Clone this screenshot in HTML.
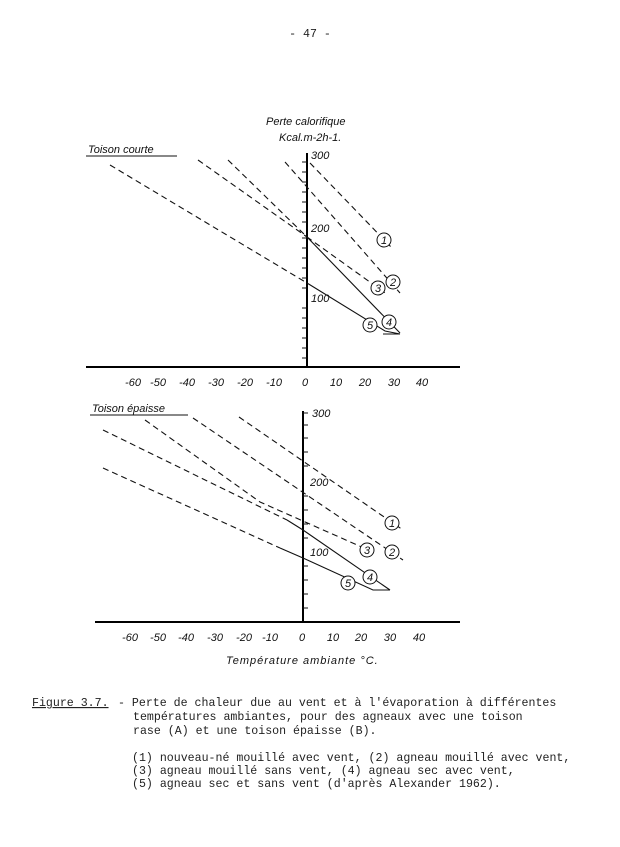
<!DOCTYPE html>
<html><head><meta charset="utf-8"><style>
body{margin:0;background:#fff}
svg{display:block}
.m{font-family:"Liberation Mono",monospace;font-size:11.6px;fill:#222}
.s{font-family:"Liberation Sans",sans-serif;font-style:italic;font-size:11px;fill:#111}
.d{stroke:#111;stroke-width:1.1;fill:none;stroke-dasharray:6 4}
.l{stroke:#111;stroke-width:1.1;fill:none}
.ax{stroke:#000;stroke-width:2;fill:none}
circle{fill:#fff;stroke:#111;stroke-width:1}
</style></head><body>
<svg width="620" height="847" viewBox="0 0 620 847">
<text class="m" x="310" y="37" text-anchor="middle">- 47 -</text>

<!-- TOP CHART -->
<text class="s" x="266" y="125">Perte calorifique</text>
<text class="s" x="279" y="141">Kcal.m-2h-1.</text>
<text class="s" x="88" y="153">Toison courte</text>
<line class="l" x1="86" y1="156" x2="177" y2="156"/>
<line class="ax" x1="86" y1="367" x2="460" y2="367"/>
<line class="ax" x1="307" y1="153" x2="307" y2="367"/>
<g class="l">
<path d="M302 162h5M302 172h5M302 182h5M302 192h5M302 202h5M302 212h5M302 222h5M302 238h5M302 248h5M302 258h5M302 268h5M302 278h5M302 288h5M302 308h5M302 318h5M302 328h5M302 338h5M302 348h5M302 358h5"/>
</g>
<text class="s" x="311" y="159">300</text>
<text class="s" x="311" y="232">200</text>
<text class="s" x="311" y="302">100</text>
<g class="s" text-anchor="middle">
<text x="133" y="386">-60</text><text x="158" y="386">-50</text><text x="187" y="386">-40</text><text x="216" y="386">-30</text><text x="245" y="386">-20</text><text x="274" y="386">-10</text><text x="305" y="386">0</text><text x="336" y="386">10</text><text x="365" y="386">20</text><text x="394" y="386">30</text><text x="422" y="386">40</text>
</g>
<path class="d" d="M310 163L393 249"/>
<path class="d" d="M285 162L400 293"/>
<path class="d" d="M228 160L307 237L388 295"/>
<path class="d" d="M198 160L307 237"/><path class="l" d="M307 237L400 333"/>
<path class="d" d="M110 165L307 283"/><path class="l" d="M307 283L385 331L400 334L383 334"/>
<circle cx="384" cy="240" r="7"/><circle cx="393" cy="282" r="7"/><circle cx="378" cy="288" r="7"/><circle cx="389" cy="322" r="7"/><circle cx="370" cy="325" r="7"/>
<g class="s" text-anchor="middle" font-size="10">
<text x="384" y="244">1</text><text x="393" y="286">2</text><text x="378" y="292">3</text><text x="389" y="326">4</text><text x="370" y="329">5</text>
</g>

<!-- BOTTOM CHART -->
<text class="s" x="92" y="412">Toison épaisse</text>
<line class="l" x1="90" y1="415" x2="188" y2="415"/>
<line class="ax" x1="95" y1="622" x2="460" y2="622"/>
<line class="ax" x1="303" y1="411" x2="303" y2="622"/>
<g class="l">
<path d="M303 413h5M303 425h5M303 438h5M303 452h5M303 466h5M303 496h5M303 510h5M303 524h5M303 538h5M303 566h5M303 580h5M303 594h5M303 608h5"/>
</g>
<text class="s" x="312" y="417">300</text>
<text class="s" x="310" y="486">200</text>
<text class="s" x="310" y="556">100</text>
<g class="s" text-anchor="middle">
<text x="130" y="641">-60</text><text x="158" y="641">-50</text><text x="186" y="641">-40</text><text x="215" y="641">-30</text><text x="244" y="641">-20</text><text x="270" y="641">-10</text><text x="302" y="641">0</text><text x="333" y="641">10</text><text x="361" y="641">20</text><text x="390" y="641">30</text><text x="419" y="641">40</text>
</g>
<text class="s" x="226" y="664" letter-spacing="1">Température  ambiante  °C.</text>
<path class="d" d="M239 417L403 530"/>
<path class="d" d="M193 418L403 560"/>
<path class="d" d="M145 420L260 502L373 552"/>
<path class="d" d="M103 430L287 520"/><path class="l" d="M287 520L303 530L390 590"/>
<path class="d" d="M103 468L280 548"/><path class="l" d="M280 548L303 558L373 590L390 590"/>
<circle cx="392" cy="523" r="7"/><circle cx="392" cy="552" r="7"/><circle cx="367" cy="550" r="7"/><circle cx="370" cy="577" r="7"/><circle cx="348" cy="583" r="7"/>
<g class="s" text-anchor="middle" font-size="10">
<text x="392" y="527">1</text><text x="392" y="556">2</text><text x="367" y="554">3</text><text x="370" y="581">4</text><text x="348" y="587">5</text>
</g>

<!-- CAPTION -->
<text class="m" x="32" y="706" text-decoration="underline">Figure 3.7.</text>
<text class="m" x="118" y="706">- Perte de chaleur due au vent et à l'évaporation à différentes</text>
<text class="m" x="133" y="720">températures ambiantes, pour des agneaux avec une toison</text>
<text class="m" x="133" y="734">rase (A) et une toison épaisse (B).</text>
<text class="m" x="132" y="761">(1) nouveau-né mouillé avec vent, (2) agneau mouillé avec vent,</text>
<text class="m" x="132" y="774">(3) agneau mouillé sans vent, (4) agneau sec avec vent,</text>
<text class="m" x="132" y="787">(5) agneau sec et sans vent (d'après Alexander 1962).</text>
</svg>
</body></html>
